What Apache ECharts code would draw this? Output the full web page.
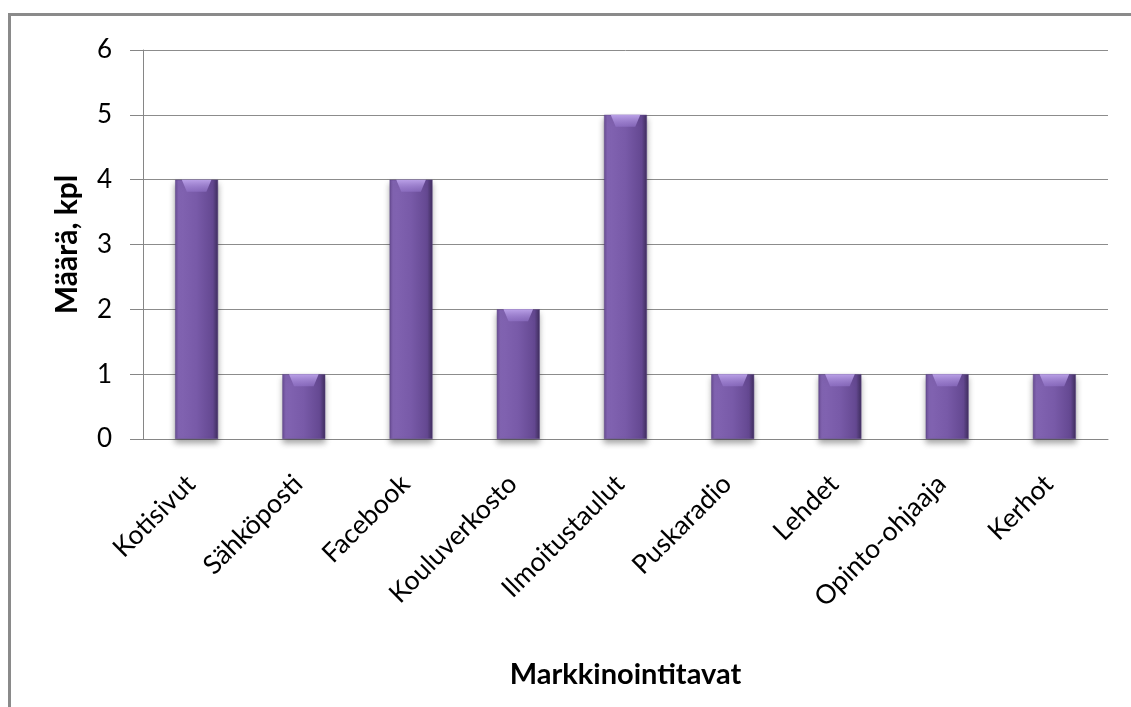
<!DOCTYPE html>
<html>
<head>
<meta charset="utf-8">
<script src="https://cdn.jsdelivr.net/npm/echarts@6/dist/echarts.min.js"></script>
<style>
  html, body { margin: 0; padding: 0; background: #fff; }
  #chart { width: 1131px; height: 707px; }
</style>
</head>
<body>
<div id="chart"></div>
<script>
// Marketing channels and how many times each was mentioned
const categories = ['Kotisivut', 'Sähköposti', 'Facebook', 'Kouluverkosto', 'Ilmoitustaulut',
  'Puskaradio', 'Lehdet', 'Opinto-ohjaaja', 'Kerhot'];
const counts = [4, 1, 4, 2, 5, 1, 1, 1, 1];
const yTicks = [0, 1, 2, 3, 4, 5, 6];

const FONT = 'Lato, "Open Sans", sans-serif';

const chart = echarts.init(document.getElementById('chart'), null, { renderer: 'canvas' });

const barFill = new echarts.graphic.LinearGradient(0, 0, 1, 0, [
  { offset: 0, color: '#6a4e96' },
  { offset: 0.08, color: '#8264b2' },
  { offset: 0.5, color: '#785aa8' },
  { offset: 0.88, color: '#644891' },
  { offset: 1, color: '#402e5e' }
]);

const bevelFill = new echarts.graphic.LinearGradient(0, 0, 0, 1, [
  { offset: 0, color: 'rgba(190,165,235,0.95)' },
  { offset: 1, color: 'rgba(150,120,205,0.55)' }
]);

chart.setOption({
  animation: false,
  backgroundColor: '#ffffff',
  graphic: [{
    type: 'rect',
    shape: { x: 9.5, y: 14.5, width: 1140, height: 720 },
    style: { fill: 'none', stroke: '#8a8a8a', lineWidth: 3 },
    z: 100
  }],
  grid: { left: 143, right: 23, top: 50, bottom: 268, containLabel: false },
  xAxis: {
    type: 'category',
    data: categories,
    name: 'Markkinointitavat',
    nameLocation: 'middle',
    nameGap: 221,
    nameTextStyle: { fontFamily: FONT, fontSize: 29, fontWeight: 'bold', color: '#000' },
    axisLine: { lineStyle: { color: '#868686', width: 1 } },
    axisTick: { show: false },
    axisLabel: {
      interval: 0,
      rotate: 45,
      margin: 35,
      padding: [0, 8, 0, 0],
      fontFamily: FONT,
      fontSize: 26.5,
      color: '#000'
    }
  },
  yAxis: {
    type: 'value',
    min: yTicks[0],
    max: yTicks[yTicks.length - 1],
    interval: 1,
    name: 'Määrä, kpl',
    nameLocation: 'middle',
    nameGap: 61,
    nameRotate: 90,
    nameTextStyle: { fontFamily: FONT, fontSize: 30, fontWeight: 'bold', color: '#000' },
    axisLine: { show: true, lineStyle: { color: '#868686', width: 1 } },
    axisTick: { show: true, length: 13, lineStyle: { color: '#868686' } },
    axisLabel: { margin: 31, fontFamily: FONT, fontSize: 26, color: '#000' },
    splitLine: { lineStyle: { color: '#8c8c8c', width: 1 } }
  },
  series: [{
    type: 'bar',
    data: counts,
    barWidth: '40%',
    itemStyle: {
      color: barFill,
      borderColor: '#5a4384',
      borderWidth: 0.5,
      shadowColor: 'rgba(0,0,0,0.35)',
      shadowBlur: 6,
      shadowOffsetY: 4
    }
  }, {
    // bevelled highlight along each bar's top edge
    type: 'pictorialBar',
    data: counts,
    symbol: 'path://M0,0 L10,0 L8.3,1 L1.7,1 Z',
    symbolSize: ['40%', 12],
    symbolPosition: 'end',
    symbolOffset: [0, 0],
    barGap: '-100%',
    itemStyle: { color: bevelFill },
    z: 5
  }]
});
</script>
</body>
</html>
